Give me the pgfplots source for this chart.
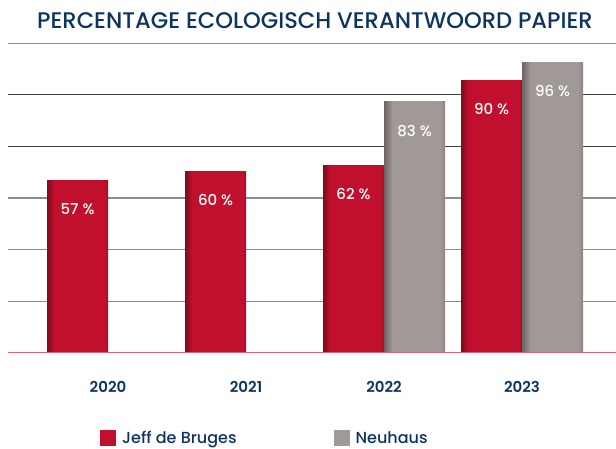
\documentclass[border=0pt]{standalone}
\usepackage{fontspec}
\setmainfont{Poppins}
\newfontfamily\popmed{Poppins Medium}
\newfontfamily\popsemi{Poppins SemiBold}
\usepackage{pgfplots}
\pgfplotsset{compat=1.18}

\definecolor{navy}{HTML}{0D3461}
\definecolor{jdb}{HTML}{C1102E}
\definecolor{jdbdark}{HTML}{7E0A1E}
\definecolor{jdbedge}{HTML}{A30E27}
\definecolor{nh}{HTML}{A19997}
\definecolor{nhdark}{HTML}{6B6563}
\definecolor{nhedge}{HTML}{8C8583}

% darker edges on the bars
\pgfdeclarehorizontalshading{jdbshade}{100bp}{color(0bp)=(jdbdark); color(25bp)=(jdbdark); color(31bp)=(jdb); color(72bp)=(jdb); color(75bp)=(jdbedge); color(100bp)=(jdbedge)}
\pgfdeclarehorizontalshading{nhshade}{100bp}{color(0bp)=(nhdark); color(25bp)=(nhdark); color(32bp)=(nh); color(71bp)=(nh); color(75bp)=(nhedge); color(100bp)=(nhedge)}

% flat legend squares (plain pgf, so the bar shading is not inherited)
\newcommand\legsquare[1]{\pgfsetfillcolor{#1}%
  \pgfpathrectangle{\pgfpoint{0pt}{-8pt}}{\pgfpoint{16pt}{16pt}}\pgfusepath{fill}}

\pgfplotsset{
  jdbbar/.style={draw=none, shade, shading=jdbshade, bar shift=-30.5pt,
    legend image code/.code={\legsquare{jdb}}},
  nhbar/.style={draw=none, shade, shading=nhshade, bar shift=30.5pt,
    legend image code/.code={\legsquare{nh}}},
}

\begin{document}
\begin{tikzpicture}[x=1pt,y=1pt]
\path[use as bounding box] (0,0) rectangle (616,449);
\node[anchor=base west, text=navy, inner sep=0pt, font=\popmed\fontsize{22.6}{26}\selectfont]
  at (37,420) {PERCENTAGE ECOLOGISCH VERANTWOORD PAPIER};

\begin{axis}[
  at={(8pt,96.3pt)}, anchor=south west,
  scale only axis, width=608pt, height=309.5pt,
  xmin=-0.725, xmax=3.681,
  ymin=0, ymax=102.3,
  axis line style={draw=none},
  major tick length=0pt,
  ytick={17.05,34.1,51.15,102.3},
  yticklabels={},
  extra y ticks={68.2,85.25},
  extra y tick labels={},
  extra y tick style={grid style={line width=1.2pt, black!75}},
  ymajorgrids,
  grid style={line width=1.2pt, black!45},
  xtick={0,1,2,3},
  xticklabels={2020,2021,2022,2023},
  xticklabel style={anchor=center, yshift=-34pt, text=navy,
    font=\popsemi\fontsize{15}{18}\selectfont},
  ybar, bar width=61pt,
  nodes near coords={\pgfmathprintnumber{\pgfplotspointmeta} \%},
  /pgf/number format/assume math mode=true,
  every node near coord/.append style={anchor=center, yshift=-29pt,
    text=white, font=\popmed\fontsize{15}{18}\selectfont},
  legend style={at={(0.1513,-0.2756)}, anchor=west, draw=none, fill=none,
    inner sep=0pt, legend columns=2,
    nodes={inner sep=0pt, text=navy, font=\popmed\fontsize{16}{19}\selectfont},
    /tikz/every odd column/.append style={column sep=6pt},
    /tikz/every even column/.append style={column sep=97pt}},
]
% Jeff de Bruges
\addplot[jdbbar] coordinates {(0,57)};
\addlegendentry{Jeff de Bruges}
% Neuhaus
\addplot[nhbar] coordinates {(2,83)};
\addlegendentry{Neuhaus}
\addplot[jdbbar, forget plot] coordinates {(1,60)};
\addplot[jdbbar, forget plot] coordinates {(2,62)};
\addplot[jdbbar, forget plot] coordinates {(3,90)};
\addplot[nhbar, forget plot] coordinates {(3,96)};
\draw[line width=1.2pt, jdb!65] (rel axis cs:0,0) -- (rel axis cs:1,0);
\end{axis}
\end{tikzpicture}
\end{document}
